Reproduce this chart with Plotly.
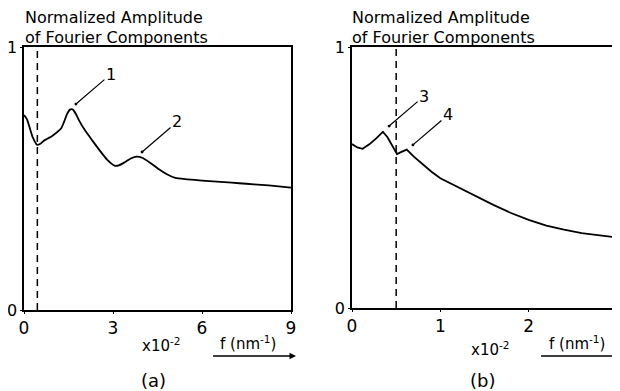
import plotly.graph_objects as go

# ---- data ----
fa = [0.0, 0.1, 0.2, 0.3, 0.44, 0.55, 0.65, 0.8, 0.95, 1.1, 1.25, 1.35, 1.45, 1.55, 1.65,
      1.75, 1.85, 2.05, 2.3, 2.55, 2.8, 3.05, 3.2, 3.4, 3.6, 3.8, 4.0, 4.25, 4.55, 4.8, 5.1,
      5.5, 6.0, 6.5, 7.0, 7.5, 8.0, 8.5, 9.0]
amp_a = [0.741, 0.725, 0.69, 0.655, 0.628, 0.632, 0.642, 0.652, 0.662, 0.675, 0.69, 0.715,
         0.745, 0.762, 0.762, 0.745, 0.722, 0.684, 0.645, 0.607, 0.572, 0.549, 0.55, 0.562,
         0.576, 0.583, 0.578, 0.56, 0.535, 0.517, 0.502, 0.497, 0.492, 0.488, 0.484, 0.48,
         0.476, 0.471, 0.465]

fb = [0.0, 0.06, 0.12, 0.2, 0.28, 0.35, 0.4, 0.45, 0.51, 0.56, 0.62, 0.7, 0.8, 0.9, 1.0,
      1.2, 1.4, 1.6, 1.8, 2.0, 2.2, 2.4, 2.6, 2.8, 3.0]
amp_b = [0.628, 0.615, 0.61, 0.628, 0.652, 0.675, 0.655, 0.625, 0.59, 0.598, 0.607, 0.58,
         0.55, 0.522, 0.497, 0.462, 0.428, 0.395, 0.364, 0.338, 0.316, 0.3, 0.287, 0.278, 0.27]

cutoff_a = 0.45
cutoff_b = 0.5
ticks_a = [0, 3, 6, 9]
ticks_b = [0, 1, 2, 3]
yticks = [0, 1]

peaks_a = [("1", 1.75, 0.783), ("2", 3.98, 0.601)]
peaks_b = [("3", 0.42, 0.697), ("4", 0.69, 0.625)]

W, H = 620, 391
OFF = 8  # page body margin
FONT = "DejaVu Sans"


def px(x):
    return (x - OFF) / W


def py(y):
    return (H - (y - OFF)) / H


fig = go.Figure()

line_style = dict(color="black", width=1.8, shape="spline", smoothing=0.5)
fig.add_trace(go.Scatter(x=fa, y=amp_a, mode="lines", line=line_style, xaxis="x", yaxis="y",
                         showlegend=False, hoverinfo="skip"))
fig.add_trace(go.Scatter(x=fb, y=amp_b, mode="lines", line=dict(color="black", width=1.8),
                         xaxis="x2", yaxis="y2", showlegend=False, hoverinfo="skip"))
dash_style = dict(color="black", width=1.5, dash="7px,5px")
fig.add_trace(go.Scatter(x=[cutoff_a, cutoff_a], y=[0, 1], mode="lines", line=dash_style,
                         xaxis="x", yaxis="y", showlegend=False, hoverinfo="skip"))
fig.add_trace(go.Scatter(x=[cutoff_b, cutoff_b], y=[0, 1], mode="lines", line=dash_style,
                         xaxis="x2", yaxis="y2", showlegend=False, hoverinfo="skip"))

axis_common = dict(showline=True, mirror=True, linecolor="black", linewidth=1.5,
                   showgrid=False, zeroline=False, ticks="outside", ticklen=2,
                   tickcolor="black", automargin=False)
xfont = dict(tickfont=dict(family=FONT, size=17, color="black"))
yfont = dict(tickfont=dict(family=FONT, size=16, color="black"))

fig.update_layout(
    width=W, height=H,
    margin=dict(l=0, r=0, t=0, b=0, pad=0, autoexpand=False),
    paper_bgcolor="white", plot_bgcolor="white",
    xaxis=dict(domain=[px(24), px(291)], range=[0, 9], tickvals=ticks_a, anchor="y",
               **axis_common, **xfont),
    yaxis=dict(domain=[py(310), py(47)], range=[0, 1], tickvals=yticks, anchor="x",
               **axis_common, **yfont),
    xaxis2=dict(domain=[px(352), px(617)], range=[0, 3], tickvals=ticks_b, anchor="y2",
                **axis_common, **xfont),
    yaxis2=dict(domain=[py(308), py(47)], range=[0, 1], tickvals=yticks, anchor="x2",
                **axis_common, **yfont),
)

anns = []
for (lab, x, y), (xr, yr) in [(p, ("x", "y")) for p in peaks_a] + [(p, ("x2", "y2")) for p in peaks_b]:
    anns.append(dict(x=x, y=y, xref=xr, yref=yr, text=lab, showarrow=True, arrowhead=6,
                     arrowsize=0.6, arrowwidth=1.2, arrowcolor="black", ax=35, ay=-30,
                     font=dict(family=FONT, size=16, color="black")))


def label(x, y, text, size, xanchor="center"):
    return dict(x=px(x), y=py(y), xref="paper", yref="paper", xanchor=xanchor,
                yanchor="middle", text=text, showarrow=False,
                font=dict(family=FONT, size=size, color="black"))


for x0 in (23, 350):
    anns.append(label(x0, 18, "Normalized Amplitude", 16, "left"))
    anns.append(label(x0, 37, "of Fourier Components", 16, "left"))

anns += [
    label(161, 345, "x10<sup>-2</sup>", 15),
    label(248, 343, "f (nm<sup>-1</sup>)", 15),
    label(490, 349, "x10<sup>-2</sup>", 15),
    label(577, 343, "f (nm<sup>-1</sup>)", 15),
    label(153, 380, "(a)", 18),
    label(482, 380, "(b)", 18),
    # arrow under f label (a)
    dict(x=px(296), y=py(356), xref="paper", yref="paper", text=" ", showarrow=True,
         arrowhead=2, arrowsize=1, arrowwidth=1.3, arrowcolor="black", ax=-86, ay=0),
    # arrow under f label (b), cut off at the edge
    dict(x=px(626), y=py(356), xref="paper", yref="paper", text=" ", showarrow=True,
         arrowhead=2, arrowsize=1, arrowwidth=1.3, arrowcolor="black", ax=-88, ay=0),
]
fig.update_layout(annotations=anns)

fig.write_html("out.html")
